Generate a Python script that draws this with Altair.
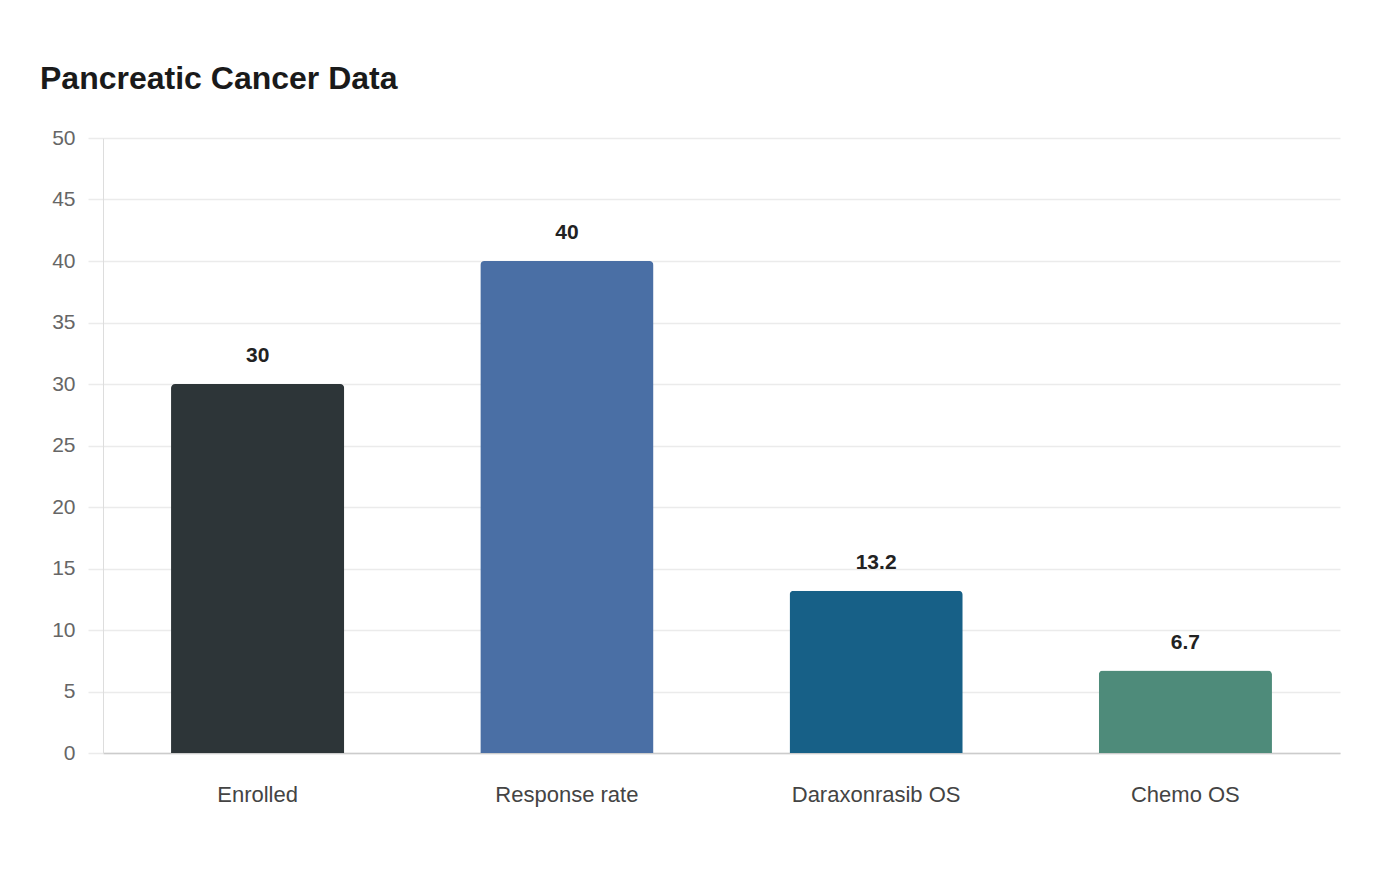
import altair as alt
import pandas as pd

categories = ["Enrolled", "Response rate", "Daraxonrasib OS", "Chemo OS"]
values = [30, 40, 13.2, 6.7]
labels = ["30", "40", "13.2", "6.7"]
colors = ["#2d3538", "#4a6fa5", "#176087", "#4e8b7a"]

df = pd.DataFrame({"category": categories, "value": values, "label": labels})

x = alt.X("category:N", sort=categories, title=None,
          scale=alt.Scale(paddingInner=0.44, paddingOuter=0.22),
          axis=alt.Axis(labelAngle=0, labelFontSize=22, labelColor="#444444",
                        labelFont="Liberation Sans", labelPadding=31, ticks=False,
                        domainColor="#cccccc", domainWidth=1.5, grid=False))
y = alt.Y("value:Q", title=None,
          scale=alt.Scale(domain=[0, 50], nice=False),
          axis=alt.Axis(values=list(range(0, 55, 5)), labelFontSize=21, labelColor="#666666",
                        labelFont="Liberation Sans", tickSize=15, tickColor="#ebebeb",
                        labelPadding=13, domainColor="#dddddd", gridColor="#ebebeb",
                        gridWidth=1.5, tickWidth=1.5))

bars = alt.Chart(df).mark_bar(cornerRadiusTopLeft=4, cornerRadiusTopRight=4).encode(
    x=x, y=y,
    color=alt.Color("category:N", scale=alt.Scale(domain=categories, range=colors), legend=None),
)
text = alt.Chart(df).mark_text(fontSize=21, fontWeight="bold", color="#222222",
                               font="Liberation Sans", baseline="bottom", dy=-18).encode(
    x=alt.X("category:N", sort=categories),
    y="value:Q",
    text="label:N",
)

chart = (bars + text).properties(
    width=1237, height=615,
    background="white",
    title=alt.TitleParams("Pancreatic Cancer Data", anchor="start", fontSize=32,
                          font="Liberation Sans", fontWeight="bold", color="#1a1a1a",
                          frame="group", dx=-63, offset=31),
    autosize=alt.AutoSizeParams(type="none"),
    padding={"left": 95, "top": 130, "right": 44, "bottom": 100},
).configure_view(strokeWidth=0, stroke="transparent")

chart.save("out.html", embed_options={"renderer": "svg", "actions": False})
